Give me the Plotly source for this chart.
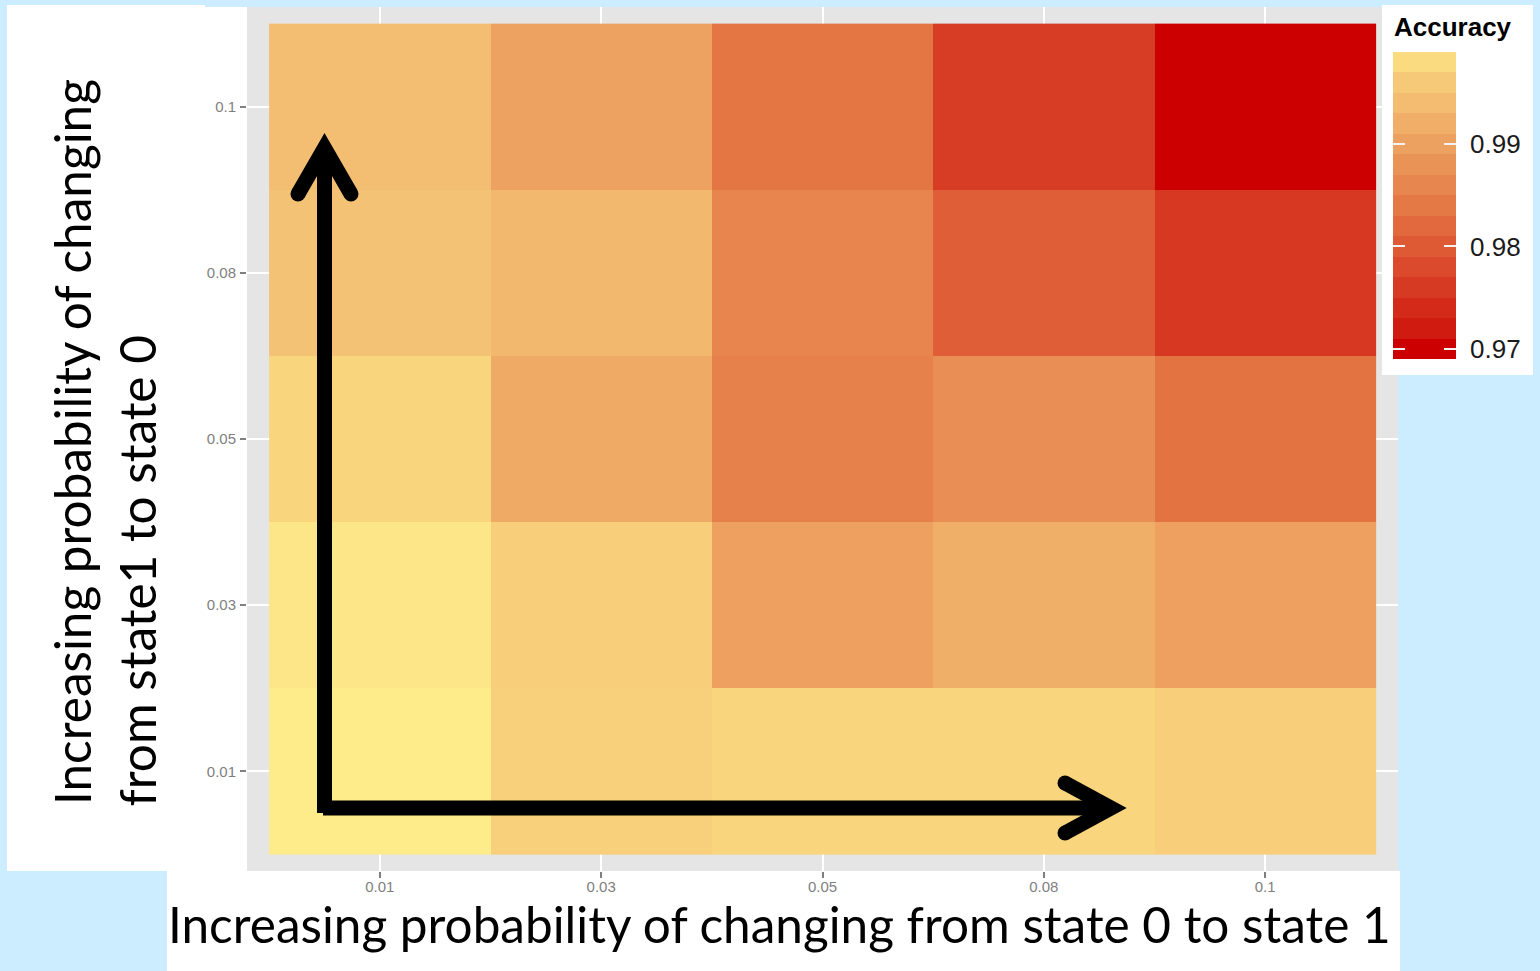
import plotly.graph_objects as go

# ---------------- data ----------------
x_labels = ["0.01", "0.03", "0.05", "0.08", "0.1"]   # prob. state 0 -> state 1
y_labels = ["0.01", "0.03", "0.05", "0.08", "0.1"]   # prob. state 1 -> state 0

# accuracy per row (y value), columns follow x_labels
acc_y001 = [0.9996, 0.9967, 0.9974, 0.9973, 0.9966]
acc_y003 = [0.9991, 0.9966, 0.9899, 0.9922, 0.9899]
acc_y005 = [0.9974, 0.9914, 0.9853, 0.9872, 0.9832]
acc_y008 = [0.9949, 0.9934, 0.9859, 0.9805, 0.9757]
acc_y010 = [0.9943, 0.9902, 0.9836, 0.9762, 0.9700]

legend_ticks = [0.97, 0.98, 0.99]
legend_ticktext = ["0.97", "0.98", "0.99"]
legend_bin_width = 0.002          # ggplot colourbar bins (pretty breaks)

x_title = "Increasing probability of changing from state 0 to state 1"
y_title_1 = "Increasing probability of changing"
y_title_2 = "from state1 to state 0"
legend_title = "Accuracy"

# ---------------- colour palette (as seen in the reference legend) ----------------
# colours of the legend bands from the lowest bin upwards, then the top colour
band_colors = ["#CC0000", "#D01B11", "#D32A1A", "#D73A23", "#DB4A2C", "#DE5A35",
               "#E2693D", "#E57946", "#E8864F", "#EA9357", "#EDA160", "#F0AE68",
               "#F3BC70", "#F6C978", "#FBDB80"]
top_color = "#FEEB8A"

z = [acc_y001, acc_y003, acc_y005, acc_y008, acc_y010]
zmin = min(min(r) for r in z)
zmax = max(max(r) for r in z)

nbin = len(band_colors)
bins = [zmin + i * legend_bin_width for i in range(nbin)]
colorscale = [[(b - zmin) / (zmax - zmin), c] for b, c in zip(bins, band_colors)]
colorscale.append([1.0, top_color])

# ---------------- geometry helpers (pixels -> paper) ----------------
W, H = 1540, 971


def px(x):
    return x / W


def py(y):
    return (H - y) / H


fig = go.Figure()

fig.add_trace(go.Heatmap(
    x=x_labels, y=y_labels, z=z, colorscale=colorscale, zmin=zmin, zmax=zmax,
    showscale=False, xaxis="x", yaxis="y", hovertemplate="%{z}<extra></extra>"))

# legend colour bar drawn as a binned heatmap (ggplot style raster)
fig.add_trace(go.Heatmap(
    x=[0], y=bins, z=[[b] for b in bins], colorscale=colorscale, zmin=zmin, zmax=zmax,
    showscale=False, xaxis="x2", yaxis="y2", hoverinfo="skip"))

tick_font = dict(family="Liberation Sans, Arial, sans-serif", size=15, color="#7F7F7F")
title_font = dict(family="Lato, sans-serif", size=49.5, color="#000000")

axis_common = dict(
    type="category", range=[-0.6, 4.6], ticks="outside", ticklen=6, tickwidth=1.5,
    tickcolor="#7F7F7F", tickfont=tick_font, showgrid=True, gridcolor="#FFFFFF",
    gridwidth=1.6, zeroline=False, showline=False, fixedrange=True)

shapes = []
white = dict(type="rect", xref="paper", yref="paper", fillcolor="#FFFFFF",
             line=dict(width=0), layer="below")
shapes.append(dict(white, x0=px(7), x1=px(205), y0=py(871), y1=py(5)))
shapes.append(dict(white, x0=px(205), x1=px(247), y0=py(871), y1=py(7)))
shapes.append(dict(white, x0=px(167), x1=px(1400), y0=py(971), y1=py(871)))
shapes.append(dict(white, x0=px(1382), x1=px(1533), y0=py(375), y1=py(5)))

# black arrows (overlay drawing)
LW = 15


def path(pts):
    return "M " + " L ".join("%f,%f" % (px(a), py(b)) for a, b in pts)


arrow = dict(type="path", xref="paper", yref="paper", line=dict(color="#000000", width=LW),
             layer="above")
shapes.append(dict(arrow, path=path([(324.5, 813), (324.5, 150)])))
shapes.append(dict(arrow, path=path([(323, 808), (1108, 808)])))
shapes.append(dict(arrow, path=path([(298, 194), (324.5, 148), (351, 194)])))
shapes.append(dict(arrow, path=path([(1065, 783), (1111, 808), (1065, 833)])))
for cx, cy in [(298, 194), (351, 194), (1065, 783), (1065, 833)]:
    r = LW / 2
    shapes.append(dict(type="circle", xref="paper", yref="paper", x0=px(cx - r), x1=px(cx + r),
                       y0=py(cy + r), y1=py(cy - r), fillcolor="#000000",
                       line=dict(width=0), layer="above"))

annotations = [
    dict(text=x_title, x=px(779), y=py(924), xref="paper", yref="paper",
         xanchor="center", yanchor="middle", showarrow=False, font=title_font),
    dict(text=y_title_1, x=px(72), y=py(807), xref="paper", yref="paper", textangle=-90,
         xanchor="center", yanchor="bottom", showarrow=False, font=title_font),
    dict(text=y_title_2, x=px(136), y=py(809), xref="paper", yref="paper", textangle=-90,
         xanchor="center", yanchor="bottom", showarrow=False, font=title_font),
    dict(text="<b>%s</b>" % legend_title, x=px(1392), y=py(27), xref="paper", yref="paper",
         xanchor="left", yanchor="middle", showarrow=False,
         font=dict(family="Liberation Sans, Arial, sans-serif", size=26, color="#000000")),
]

fig.update_layout(
    width=W, height=H, margin=dict(l=0, r=0, t=0, b=0, autoexpand=False),
    paper_bgcolor="#CCECFF", plot_bgcolor="#E5E5E5", showlegend=False,
    xaxis=dict(axis_common, domain=[px(247), px(1398)], anchor="y", ticklabelstandoff=-4),
    yaxis=dict(axis_common, domain=[py(871), py(7)], anchor="x", ticklabelstandoff=1),
    xaxis2=dict(domain=[px(1393), px(1456)], anchor="y2", visible=False, range=[-0.5, 0.5],
                fixedrange=True),
    yaxis2=dict(domain=[py(359), py(52)], anchor="x2", side="right",
                range=[zmin - legend_bin_width / 2, bins[-1] + legend_bin_width / 2],
                tickvals=legend_ticks,
                ticktext=legend_ticktext, ticks="inside", ticklen=12, tickwidth=1.5,
                tickcolor="#F2F2F2", mirror="ticks", showgrid=False, zeroline=False,
                showline=False, ticklabelstandoff=13, fixedrange=True,
                tickfont=dict(family="Liberation Sans, Arial, sans-serif", size=26,
                              color="#1A1A1A")),
    shapes=shapes, annotations=annotations,
)

fig.write_html("out.html", config={"displayModeBar": False})
